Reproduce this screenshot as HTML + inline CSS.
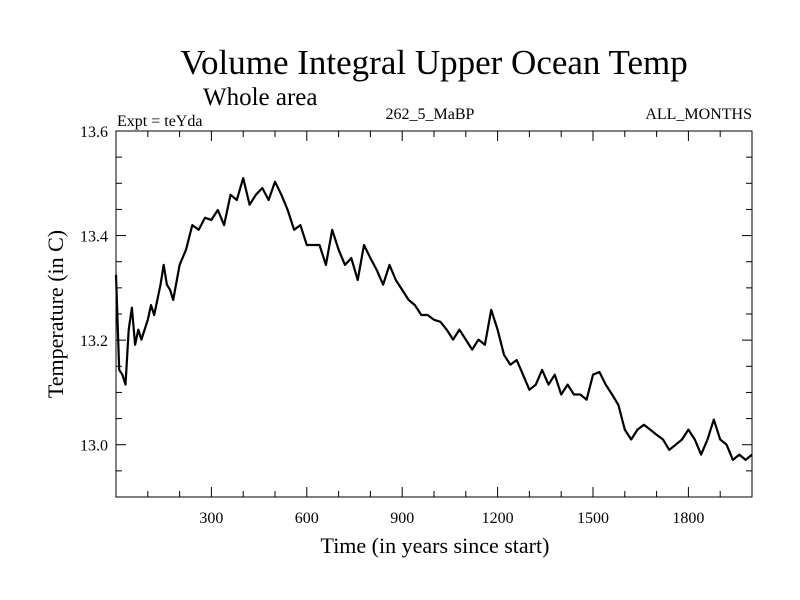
<!DOCTYPE html>
<html><head><meta charset="utf-8"><style>body{margin:0;background:#fff}svg{display:block}text{font-family:"Liberation Serif",serif;fill:#000}</style></head>
<body>
<svg id="chart" width="800" height="600">
<text x="434" y="74" font-size="35" text-anchor="middle">Volume Integral Upper Ocean Temp</text>
<text x="203" y="105" font-size="25">Whole area</text>
<text x="117" y="126" font-size="16">Expt = teYda</text>
<text x="430" y="119" font-size="16" text-anchor="middle">262_5_MaBP</text>
<text x="752" y="119" font-size="16" text-anchor="end">ALL_MONTHS</text>
<text x="435" y="553" font-size="22" text-anchor="middle">Time (in years since start)</text>
<text x="0" y="0" font-size="22" text-anchor="middle" transform="translate(63,314) rotate(-90)">Temperature (in C)</text>
<rect x="116" y="131" width="636" height="366" fill="none" stroke="#000" stroke-width="1"/>
<g id="ticks"></g>
<g id="series"></g>
</svg>
<script>
const years=[0,10,20,30,40,50,60,70,80,100,110,120,140,150,160,170,180,200,220,240,260,280,300,320,340,360,380,400,420,440,460,480,500,520,540,560,580,600,620,640,660,680,700,720,740,760,780,800,820,840,860,880,900,920,940,960,980,1000,1020,1040,1060,1080,1100,1120,1140,1160,1180,1200,1220,1240,1260,1280,1300,1320,1340,1360,1380,1400,1420,1440,1460,1480,1500,1520,1540,1560,1580,1600,1620,1640,1660,1680,1700,1720,1740,1760,1780,1800,1820,1840,1860,1880,1900,1920,1940,1960,1980,2000];
const temps=[13.325,13.143,13.134,13.115,13.22,13.262,13.191,13.22,13.201,13.239,13.267,13.248,13.306,13.344,13.306,13.296,13.277,13.344,13.373,13.42,13.411,13.434,13.43,13.449,13.42,13.478,13.468,13.51,13.459,13.478,13.491,13.468,13.503,13.478,13.449,13.411,13.42,13.382,13.382,13.382,13.344,13.411,13.373,13.344,13.357,13.315,13.382,13.357,13.334,13.306,13.344,13.315,13.296,13.277,13.267,13.248,13.248,13.239,13.235,13.22,13.201,13.22,13.201,13.182,13.201,13.191,13.258,13.22,13.172,13.153,13.162,13.134,13.105,13.115,13.143,13.115,13.134,13.096,13.115,13.096,13.096,13.086,13.134,13.139,13.115,13.096,13.076,13.029,13.01,13.029,13.038,13.029,13.019,13.01,12.99,13.0,13.01,13.029,13.01,12.981,13.01,13.048,13.01,13.0,12.971,12.981,12.971,12.981];
const xTickLabels=["300","600","900","1200","1500","1800"];
const yTickLabels=["13.0","13.2","13.4","13.6"];
const X0=0,X1=2000,Y0=12.9,Y1=13.6,L=116,R=752,T=131,B=497;
function sx(v){return L+(v-X0)/(X1-X0)*(R-L);}
function sy(v){return B-(v-Y0)/(Y1-Y0)*(B-T);}
const NS="http://www.w3.org/2000/svg";
const tg=document.getElementById('ticks');
function line(x1,y1,x2,y2){const l=document.createElementNS(NS,'line');l.setAttribute('x1',x1);l.setAttribute('y1',y1);l.setAttribute('x2',x2);l.setAttribute('y2',y2);l.setAttribute('stroke','#000');tg.appendChild(l);return l;}
for(let v=100;v<2000;v+=100){const x=sx(v);const len=(v%300===0)?10:6;
const a=line(x,B,x,B-len);
const b=line(x,T,x,T+len);}
for(let i=1;i<14;i++){const v=12.9+i*0.05;const y=sy(v);const len=(i%4===2)?10:6;
const a=line(L,y,L+len,y);
const b=line(R,y,R-len,y);}
xTickLabels.forEach(s=>{const t=document.createElementNS(NS,'text');t.setAttribute('x',sx(+s));t.setAttribute('y',B+26);t.setAttribute('font-size','16');t.setAttribute('text-anchor','middle');t.textContent=s;


tg.appendChild(t);});
yTickLabels.forEach(s=>{const t=document.createElementNS(NS,'text');t.setAttribute('x',L-8);t.setAttribute('y',sy(+s)+6);t.setAttribute('font-size','16');t.setAttribute('text-anchor','end');t.textContent=s;


tg.appendChild(t);});
const p=document.createElementNS(NS,'path');
p.setAttribute('d',years.map((y,i)=>(i?'L':'M')+sx(y).toFixed(1)+','+sy(temps[i]).toFixed(1)).join(''));
p.setAttribute('fill','none');p.setAttribute('stroke','#000');p.setAttribute('stroke-width','2.2');p.setAttribute('stroke-linejoin','round');


document.getElementById('series').appendChild(p);
</script>
</body></html>
